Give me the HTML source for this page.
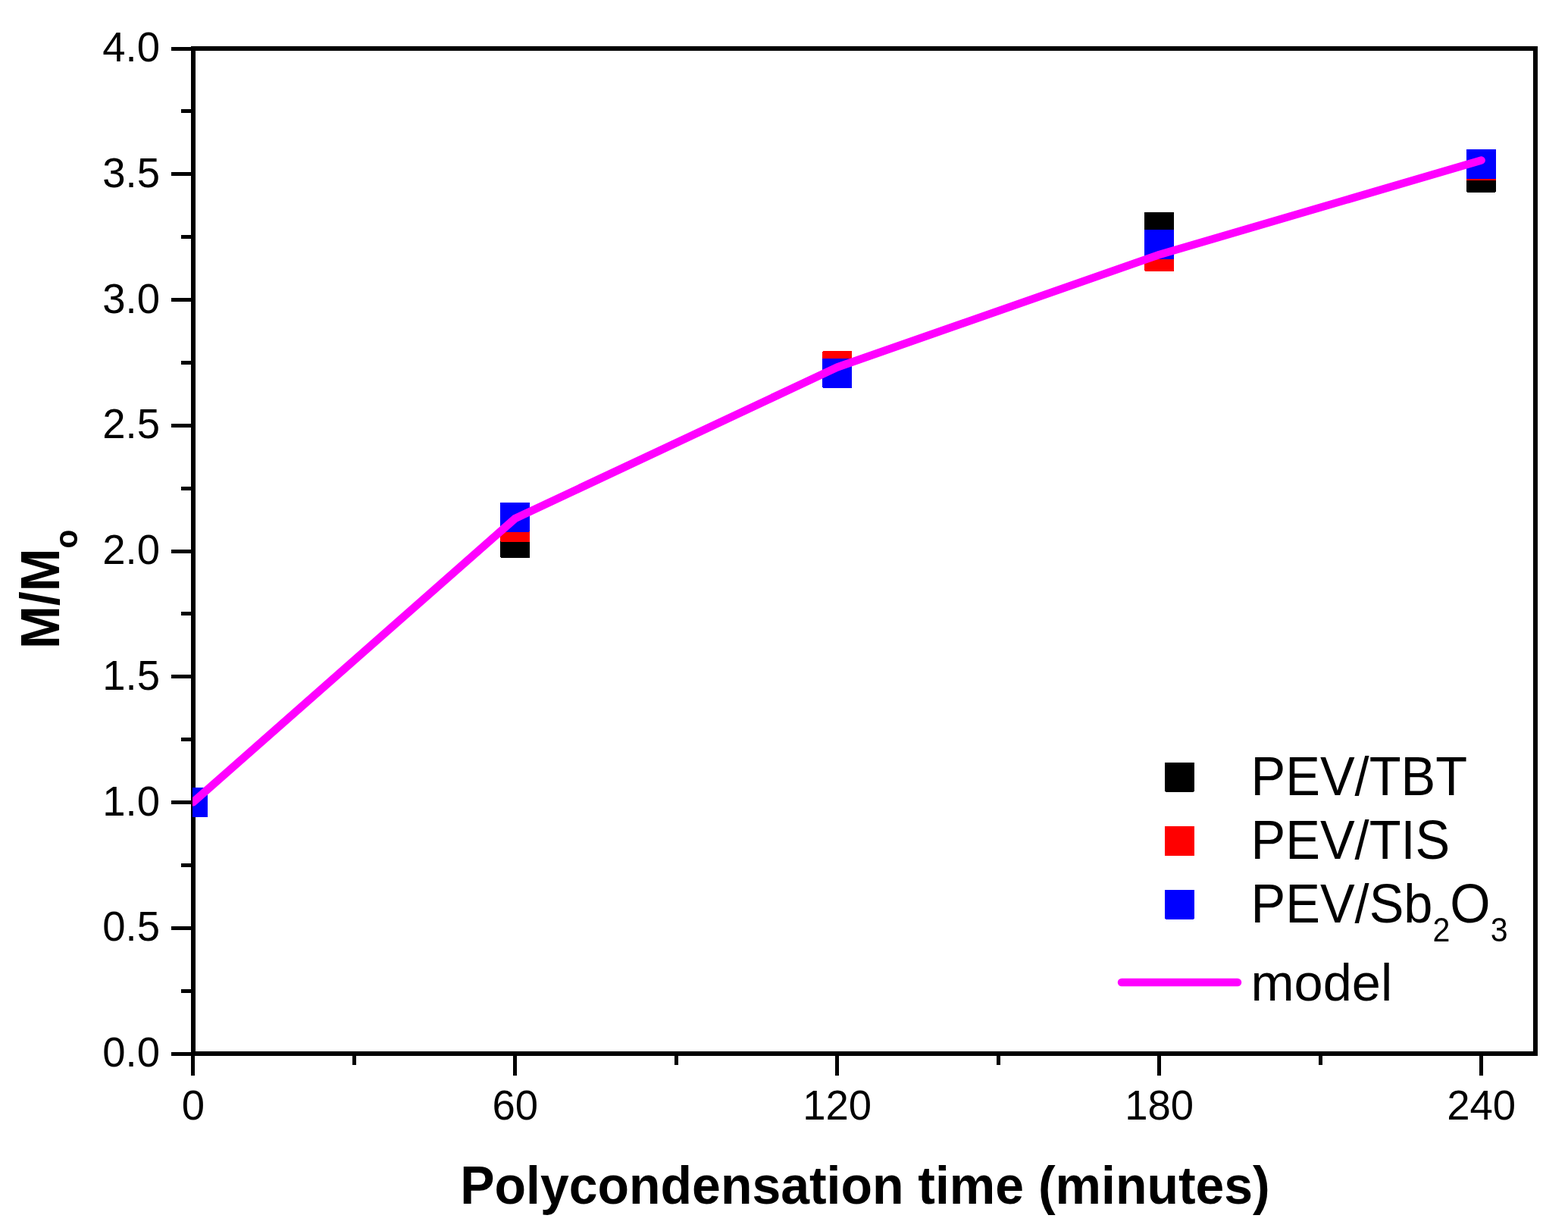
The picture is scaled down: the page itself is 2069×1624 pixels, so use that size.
<!DOCTYPE html>
<html><head><meta charset="utf-8"><title>M/Mo vs polycondensation time</title>
<style>
html,body{margin:0;padding:0;background:#fff;}
svg{display:block;}
rect{shape-rendering:crispEdges;}
text{font-family:"Liberation Sans",sans-serif;fill:#000;}
.b{font-weight:bold;}
</style></head><body>
<svg width="2069" height="1624" viewBox="0 0 2069 1624">
<rect x="0" y="0" width="2069" height="1624" fill="#fff"/>
<defs><clipPath id="pc"><rect x="254" y="60" width="1775" height="1333"/></clipPath></defs>
<rect x="255.0" y="64.0" width="1771.0" height="1326.0" fill="none" stroke="#000" stroke-width="6"/>
<g fill="#000"><rect x="226" y="1388" width="29" height="5" rx="1"/><rect x="239" y="1305" width="16" height="5"/><rect x="226" y="1222" width="29" height="5" rx="1"/><rect x="239" y="1139" width="16" height="5"/><rect x="226" y="1056" width="29" height="5" rx="1"/><rect x="239" y="973" width="16" height="5"/><rect x="226" y="890" width="29" height="5" rx="1"/><rect x="239" y="807" width="16" height="5"/><rect x="226" y="725" width="29" height="5" rx="1"/><rect x="239" y="642" width="16" height="5"/><rect x="226" y="559" width="29" height="5" rx="1"/><rect x="239" y="476" width="16" height="5"/><rect x="226" y="393" width="29" height="5" rx="1"/><rect x="239" y="310" width="16" height="5"/><rect x="226" y="227" width="29" height="5" rx="1"/><rect x="239" y="144" width="16" height="5"/><rect x="226" y="62" width="29" height="5" rx="1"/><rect x="252" y="1390" width="5" height="29" rx="1"/><rect x="465" y="1390" width="5" height="15"/><rect x="677" y="1390" width="5" height="29" rx="1"/><rect x="890" y="1390" width="5" height="15"/><rect x="1102" y="1390" width="5" height="29" rx="1"/><rect x="1315" y="1390" width="5" height="15"/><rect x="1527" y="1390" width="5" height="29" rx="1"/><rect x="1740" y="1390" width="5" height="15"/><rect x="1952" y="1390" width="5" height="29" rx="1"/></g>
<g font-size="54.5" text-anchor="end">
<text transform="translate(211 1407.0) scale(1 1.025)">0.0</text>
<text transform="translate(211 1241.2) scale(1 1.025)">0.5</text>
<text transform="translate(211 1075.5) scale(1 1.025)">1.0</text>
<text transform="translate(211 909.8) scale(1 1.025)">1.5</text>
<text transform="translate(211 744.0) scale(1 1.025)">2.0</text>
<text transform="translate(211 578.2) scale(1 1.025)">2.5</text>
<text transform="translate(211 412.5) scale(1 1.025)">3.0</text>
<text transform="translate(211 246.8) scale(1 1.025)">3.5</text>
<text transform="translate(211 81.0) scale(1 1.025)">4.0</text>
</g>
<g font-size="54.5" text-anchor="middle">
<text transform="translate(254.8 1477) scale(1 1.025)">0</text>
<text transform="translate(679.8 1477) scale(1 1.025)">60</text>
<text transform="translate(1104.7 1477) scale(1 1.025)">120</text>
<text transform="translate(1529.6 1477) scale(1 1.025)">180</text>
<text transform="translate(1954.6 1477) scale(1 1.025)">240</text>
</g>
<text class="b" transform="translate(1141.5 1588) scale(0.978 1.0)" font-size="69.5" text-anchor="middle">Polycondensation time (minutes)</text>
<text class="b" transform="translate(78.1 855.9) rotate(-90) scale(0.987 1.04)" font-size="69">M/M<tspan font-size="41.4" dy="23">o</tspan></text>
<g clip-path="url(#pc)">
<rect x="235.30" y="1039.00" width="39" height="39" rx="1.5" fill="#000"/><rect x="660.25" y="697.00" width="39" height="39" rx="1.5" fill="#000"/><rect x="1085.20" y="467.50" width="39" height="39" rx="1.5" fill="#000"/><rect x="1510.15" y="280.00" width="39" height="39" rx="1.5" fill="#000"/><rect x="1935.10" y="214.80" width="39" height="39" rx="1.5" fill="#000"/>
<rect x="235.30" y="1039.00" width="39" height="39" rx="1.5" fill="#f00"/><rect x="660.25" y="676.00" width="39" height="39" rx="1.5" fill="#f00"/><rect x="1085.20" y="463.00" width="39" height="39" rx="1.5" fill="#f00"/><rect x="1510.15" y="318.90" width="39" height="39" rx="1.5" fill="#f00"/><rect x="1935.10" y="199.00" width="39" height="39" rx="1.5" fill="#f00"/>
<rect x="235.30" y="1039.00" width="39" height="39" rx="1.5" fill="#00f"/><rect x="660.25" y="662.50" width="39" height="39" rx="1.5" fill="#00f"/><rect x="1085.20" y="472.90" width="39" height="39" rx="1.5" fill="#00f"/><rect x="1510.15" y="302.90" width="39" height="39" rx="1.5" fill="#00f"/><rect x="1935.10" y="196.90" width="39" height="39" rx="1.5" fill="#00f"/>
<path d="M254.80 1058.30 L679.75 684.00 L1104.70 484.50 L1529.65 336.00 L1954.60 211.50" fill="none" stroke="#f0f" stroke-width="10.5" stroke-linecap="round" stroke-linejoin="round"/>
</g>
<rect x="1536.90" y="1005.60" width="39" height="39" rx="1.5" fill="#000"/><rect x="1536.90" y="1090.00" width="39" height="39" rx="1.5" fill="#f00"/><rect x="1536.90" y="1173.60" width="39" height="39" rx="1.5" fill="#00f"/>
<path d="M1480 1296H1633" stroke="#f0f" stroke-width="10.5" stroke-linecap="round"/>
<g font-size="70">
<text transform="translate(1650.5 1049.2) scale(0.979 1.043)">PEV/TBT</text>
<text transform="translate(1650.5 1132.7) scale(0.979 1.043)">PEV/TIS</text>
<text transform="translate(1650.5 1216.8) scale(0.979 1.043)">PEV/Sb<tspan font-size="42" dy="24">2</tspan><tspan dy="-24">O</tspan><tspan font-size="42" dy="24">3</tspan></text>
<text transform="translate(1650.5 1319.8) scale(0.979 0.99)">model</text>
</g>
</svg>
</body></html>
